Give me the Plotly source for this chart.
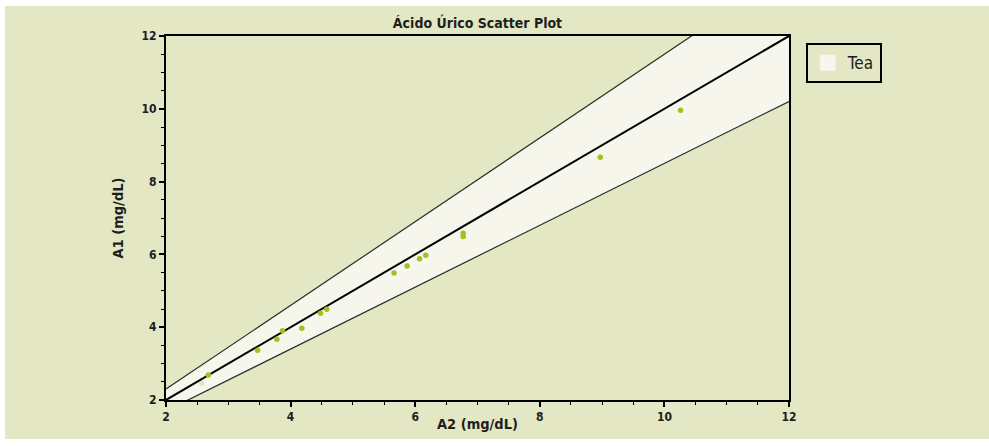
import plotly.graph_objects as go

# Data
a2_values = [2.57, 2.68, 3.47, 3.78, 3.87, 4.18, 4.48, 4.58, 5.66, 5.87, 6.07, 6.17, 6.77, 6.77, 8.97, 10.26]
a1_values = [2.46, 2.69, 3.37, 3.67, 3.90, 3.97, 4.38, 4.49, 5.49, 5.68, 5.88, 5.98, 6.58, 6.49, 8.67, 9.96]
point_opacity = [0.25] + [1.0] * 15
axis_range = [2, 12]
tolerance = 0.15
band_name = "Tea"
tick_vals = [2, 4, 6, 8, 10, 12]

BG = "#E3E7C3"
BAND = "#F6F6EC"
PT = "#A2C11F"
TXT = "#1E1E1E"
FONT = "DejaVu Sans Condensed, Liberation Sans Narrow, DejaVu Sans, sans-serif"

line_x = axis_range
upper_y = [v * (1 + tolerance) for v in line_x]
lower_y = [v * (1 - tolerance) for v in line_x]

fig = go.Figure()
fig.add_trace(go.Scatter(x=line_x, y=lower_y, mode="lines", line=dict(width=0, color=BAND),
                         showlegend=False, hoverinfo="skip"))
fig.add_trace(go.Scatter(x=line_x, y=upper_y, mode="lines", line=dict(width=0, color=BAND),
                         fill="tonexty", fillcolor=BAND, showlegend=False, hoverinfo="skip"))
fig.add_trace(go.Scatter(x=line_x, y=lower_y, mode="lines", line=dict(color="#2A2A2A", width=1.2),
                         showlegend=False, hoverinfo="skip"))
fig.add_trace(go.Scatter(x=line_x, y=upper_y, mode="lines", line=dict(color="#2A2A2A", width=1.2),
                         showlegend=False, hoverinfo="skip"))
fig.add_trace(go.Scatter(x=line_x, y=line_x, mode="lines", line=dict(color="#000000", width=2),
                         showlegend=False, hoverinfo="skip"))
fig.add_trace(go.Scatter(x=a2_values, y=a1_values, mode="markers",
                         marker=dict(color=PT, size=5.5, opacity=point_opacity),
                         showlegend=False))
# legend entry for the band
fig.add_trace(go.Scatter(x=[None], y=[None], mode="markers", name=band_name,
                         marker=dict(symbol="square", size=18, color=BAND, line=dict(width=0)),
                         showlegend=True))

axis_common = dict(
    range=axis_range, tickvals=tick_vals, showgrid=False, zeroline=False, automargin=False,
    showline=True, linecolor="#000000", linewidth=2, mirror=True,
    ticks="outside", ticklen=5, tickwidth=1.5, tickcolor="#000000",
    minor=dict(dtick=0.5, ticks="outside", ticklen=3, tickwidth=1, tickcolor="#000000"),
    tickfont=dict(family=FONT, size=12, color=TXT, weight="bold"),
)

fig.update_layout(
    width=989, height=446,
    margin=dict(l=166, r=200, t=36, b=46),
    paper_bgcolor="#FFFFFF",
    plot_bgcolor=BG,
    title=dict(text="Ácido Úrico Scatter Plot", x=(166 + 789) / 2 / 989, xanchor="center",
               y=1 - 23 / 446, yanchor="middle",
               font=dict(family=FONT, size=14, color=TXT, weight="bold")),
    xaxis=axis_common,
    yaxis=dict(axis_common, title=dict(text="A1 (mg/dL)", standoff=14,
                                       font=dict(family=FONT, size=14.5, color=TXT, weight="bold"))),
    legend=dict(x=1.027, y=0.98, xanchor="left", yanchor="top",
                bgcolor=BG, bordercolor="#000000", borderwidth=2,
                font=dict(family=FONT, size=17, color=TXT),
                itemwidth=30),
    annotations=[dict(text="A2 (mg/dL)", xref="paper", yref="paper", x=0.5, y=(400 - 424) / 364,
                      xanchor="center", yanchor="middle", showarrow=False,
                      font=dict(family=FONT, size=14.5, color=TXT, weight="bold"))],
    shapes=[dict(type="rect", xref="paper", yref="paper", layer="below",
                 x0=(5 - 166) / 623, x1=(989 - 166) / 623,
                 y0=(400 - 439) / 364, y1=(400 - 6) / 364,
                 fillcolor=BG, line=dict(width=0))],
)

fig.write_html("out.html", config={"displayModeBar": False},
               post_script="document.body.style.margin='0';")
